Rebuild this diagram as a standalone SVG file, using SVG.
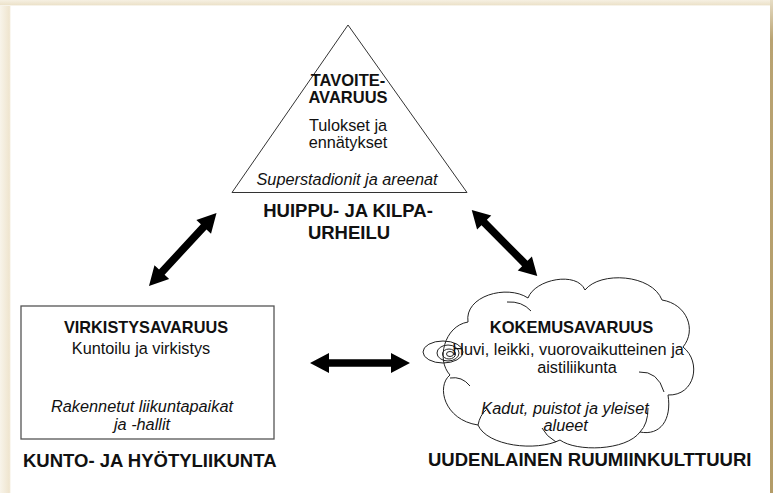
<svg xmlns="http://www.w3.org/2000/svg" width="773" height="493" viewBox="0 0 773 493">
<defs>
<style>
.b{font-family:"Liberation Sans",Arial,sans-serif;font-weight:bold;fill:#111;}
.n{font-family:"Liberation Sans",Arial,sans-serif;fill:#111;}
.i{font-family:"Liberation Sans",Arial,sans-serif;font-style:italic;fill:#111;}
.m{text-anchor:middle;}
.ln{fill:none;stroke:#222;stroke-width:1;}
.arr{fill:#000;}
</style>
<linearGradient id="gl" x1="0" y1="0" x2="1" y2="0">
<stop offset="0" stop-color="#f8f4ea"/><stop offset="0.85" stop-color="#efe5cf"/><stop offset="1" stop-color="#ffffff"/>
</linearGradient>
<linearGradient id="gt" x1="0" y1="0" x2="0" y2="1">
<stop offset="0" stop-color="#f6f0e2"/><stop offset="0.8" stop-color="#ece2ca"/><stop offset="1" stop-color="#ffffff"/>
</linearGradient>
<linearGradient id="gr" x1="0" y1="0" x2="0" y2="1">
<stop offset="0" stop-color="#e6dcc4"/><stop offset="0.08" stop-color="#b9a372"/><stop offset="1" stop-color="#b39c68"/>
</linearGradient>
<polygon id="dblarrow" points="-50,0 -31,-10 -31,-3.8 31,-3.8 31,-10 50,0 31,10 31,3.8 -31,3.8 -31,10"/>
</defs>
<rect x="0" y="0" width="773" height="493" fill="#ffffff"/>
<rect x="0" y="0" width="11" height="493" fill="url(#gl)"/>
<rect x="0" y="0" width="773" height="6" fill="url(#gt)"/>
<rect x="770" y="0" width="3" height="493" fill="url(#gr)"/>

<g id="huippu">
<polygon points="348,25 232,192.5 467,192.5" fill="#fff" stroke="#333" stroke-width="1"/>
<text class="b m" x="348" y="86" font-size="16.5">TAVOITE-</text>
<text class="b m" x="348" y="103" font-size="16.5">AVARUUS</text>
<text class="n m" x="348" y="131" font-size="16.3">Tulokset ja</text>
<text class="n m" x="348" y="148" font-size="16.3">ennätykset</text>
<text class="i m" x="347" y="184.5" font-size="16.3">Superstadionit ja areenat</text>
<text class="b m" x="348" y="217" font-size="18.5">HUIPPU- JA KILPA-</text>
<text class="b m" x="349" y="239" font-size="18.5">URHEILU</text>
</g>

<g id="kunto">
<rect x="21" y="306" width="253" height="133" fill="#fff" stroke="#555" stroke-width="1.3"/>
<text class="b m" x="146" y="333" font-size="16.3">VIRKISTYSAVARUUS</text>
<text class="n m" x="141" y="354" font-size="16.3">Kuntoilu ja virkistys</text>
<text class="i m" x="142" y="411.5" font-size="16.3">Rakennetut liikuntapaikat</text>
<text class="i m" x="142" y="430" font-size="16.3">ja -hallit</text>
<text class="b" x="23" y="467" font-size="18.5">KUNTO- JA HYÖTYLIIKUNTA</text>
</g>

<g id="kokemus">
<path class="ln" fill="#fff" d="M450,375 C436,360 444,326 468,322 C464,296 507,284 528,298 C535,279 577,271 585,290 C600,271 652,274 662,300 C687,304 697,330 683,347 C702,362 695,396 668,395 C672,420 660,436 640,432 C626,451 576,452 560,440 C536,452 487,446 478,425 C444,420 436,386 450,375 Z"/>
<path class="ln" d="M507,302 Q522,301 531,311"/>
<path class="ln" d="M639,372 Q658,371 664,392"/>
<path class="ln" d="M450,378 Q462,376 470,386"/>
<path class="ln" d="M478,425 Q480,415 486,410"/>
<path class="ln" d="M640,432 Q648,424 648,408"/>
<path class="ln" d="M542,428 Q546,436 556,442"/>
<ellipse class="ln" cx="443" cy="352" rx="20" ry="11"/>
<ellipse class="ln" cx="448" cy="353" rx="11" ry="8"/>
<ellipse class="ln" cx="449" cy="354" rx="6.5" ry="5"/>
<ellipse class="ln" cx="450" cy="354" rx="3.5" ry="2.5"/>
<text class="b m" x="571.5" y="332.7" font-size="16.5">KOKEMUSAVARUUS</text>
<text class="n m" x="568" y="355" font-size="16.3">Huvi, leikki, vuorovaikutteinen ja</text>
<text class="n m" x="577" y="373.3" font-size="16.3">aistiliikunta</text>
<text class="i m" x="565" y="414" font-size="16.3">Kadut, puistot ja yleiset</text>
<text class="i m" x="565.7" y="430.7" font-size="16.3">alueet</text>
<text class="b" x="428" y="466" font-size="18.5">UUDENLAINEN RUUMIINKULTTUURI</text>
</g>

<g id="connectors">
<use href="#dblarrow" class="arr" transform="translate(182.75,249.5) rotate(-47.2) scale(0.994,1)"/>
<use href="#dblarrow" class="arr" transform="translate(504.5,243) rotate(45.2) scale(0.93,1)"/>
<use href="#dblarrow" class="arr" transform="translate(360,363)"/>
</g>
</svg>
